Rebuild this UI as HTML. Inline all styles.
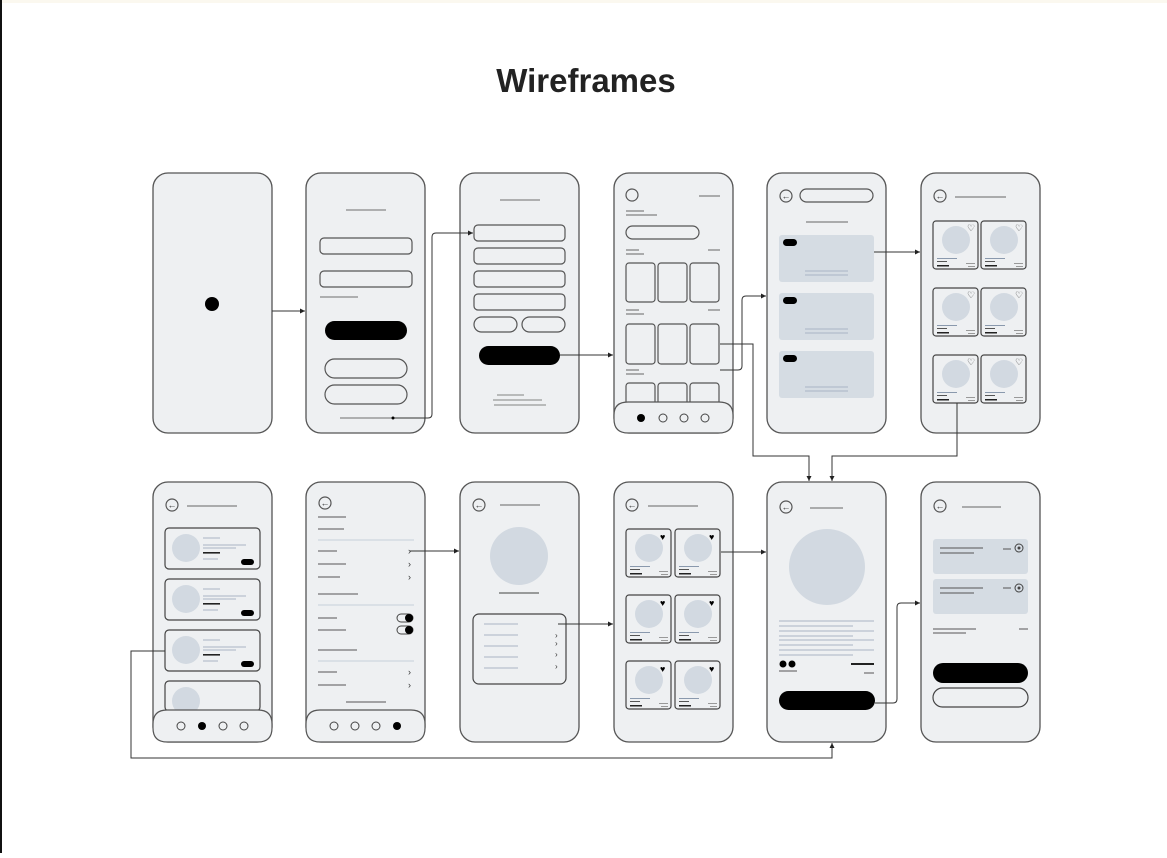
<!DOCTYPE html>
<html><head><meta charset="utf-8"><style>
html,body{margin:0;padding:0;background:#fff;}
body{width:1167px;height:853px;overflow:hidden;position:relative;}
</style></head><body>
<svg width="1167" height="853" viewBox="0 0 1167 853" xmlns="http://www.w3.org/2000/svg" font-family="Liberation Sans, sans-serif">
<defs>
<marker id="a" markerWidth="6" markerHeight="6" refX="5" refY="3" orient="auto"><path d="M0,0.5 L5,3 L0,5.5z" fill="#222"/></marker>
<g id="cardO">
<rect x="0" y="0" width="45" height="48" rx="3" fill="none" stroke="#444" stroke-width="1.2"/>
<circle cx="23" cy="19" r="14" fill="#d2d9e1"/>
<rect x="4" y="37" width="20" height="1" fill="#8a99ad"/><rect x="4" y="40" width="10" height="1" fill="#555"/>
<rect x="4" y="44" width="12" height="1.5" fill="#222"/><rect x="33" y="42" width="9" height="1" fill="#999"/><rect x="35" y="45" width="7" height="1" fill="#999"/>
</g>
</defs>
<rect x="0" y="0" width="1167" height="3" fill="#fbf8ef"/>
<rect x="0" y="0" width="2" height="853" fill="#111"/>
<text x="586" y="92" text-anchor="middle" font-size="33" font-weight="bold" fill="#222">Wireframes</text>

<g fill="#eef0f2" stroke="#555" stroke-width="1.3">
<rect x="153" y="173" width="119" height="260" rx="15"/>
<rect x="306" y="173" width="119" height="260" rx="15"/>
<rect x="460" y="173" width="119" height="260" rx="15"/>
<rect x="614" y="173" width="119" height="260" rx="15"/>
<rect x="767" y="173" width="119" height="260" rx="15"/>
<rect x="921" y="173" width="119" height="260" rx="15"/>
<rect x="153" y="482" width="119" height="260" rx="15"/>
<rect x="306" y="482" width="119" height="260" rx="15"/>
<rect x="460" y="482" width="119" height="260" rx="15"/>
<rect x="614" y="482" width="119" height="260" rx="15"/>
<rect x="767" y="482" width="119" height="260" rx="15"/>
<rect x="921" y="482" width="119" height="260" rx="15"/>
</g>

<circle cx="212" cy="304" r="7" fill="#000"/>
<g stroke="#555" stroke-width="1.2" fill="none">
<line x1="346" y1="210" x2="386" y2="210" stroke="#888"/>
<rect x="320" y="238" width="92" height="16" rx="4"/>
<rect x="320" y="271" width="92" height="16" rx="4"/>
<line x1="320" y1="297" x2="358" y2="297" stroke="#888"/>
<rect x="325" y="359" width="82" height="19" rx="9.5"/>
<rect x="325" y="385" width="82" height="19" rx="9.5"/>
<line x1="340" y1="418" x2="393" y2="418" stroke="#888"/>
</g>
<rect x="325" y="321" width="82" height="19" rx="9.5" fill="#000"/>
<g stroke="#555" stroke-width="1.2" fill="none">
<line x1="500" y1="200" x2="540" y2="200" stroke="#888"/>
<rect x="474" y="225" width="91" height="16" rx="4"/>
<rect x="474" y="248" width="91" height="16" rx="4"/>
<rect x="474" y="271" width="91" height="16" rx="4"/>
<rect x="474" y="294" width="91" height="16" rx="4"/>
<rect x="474" y="317" width="43" height="15" rx="7.5"/>
<rect x="522" y="317" width="43" height="15" rx="7.5"/>
<g stroke="#999"><line x1="497" y1="395" x2="524" y2="395"/><line x1="493" y1="400" x2="542" y2="400"/><line x1="494" y1="405" x2="546" y2="405"/></g>
</g>
<rect x="479" y="346" width="81" height="19" rx="9.5" fill="#000"/>
<g stroke="#555" stroke-width="1.2" fill="none">
<circle cx="632" cy="195" r="6"/>
<rect x="626" y="226" width="73" height="13" rx="6.5"/>
<rect x="626" y="263" width="29" height="39" rx="3"/><rect x="658" y="263" width="29" height="39" rx="3"/><rect x="690" y="263" width="29" height="39" rx="3"/>
<rect x="626" y="324" width="29" height="40" rx="3"/><rect x="658" y="324" width="29" height="40" rx="3"/><rect x="690" y="324" width="29" height="40" rx="3"/>
<rect x="626" y="383" width="29" height="30" rx="3"/><rect x="658" y="383" width="29" height="30" rx="3"/><rect x="690" y="383" width="29" height="30" rx="3"/>
</g>
<g stroke="#666" stroke-width="1">
<line x1="699" y1="196" x2="720" y2="196"/><line x1="626" y1="211" x2="644" y2="211"/><line x1="626" y1="215" x2="657" y2="215"/>
<line x1="626" y1="250" x2="639" y2="250"/><line x1="626" y1="254" x2="644" y2="254"/><line x1="708" y1="250" x2="720" y2="250"/>
<line x1="626" y1="310" x2="639" y2="310"/><line x1="626" y1="314" x2="644" y2="314"/><line x1="708" y1="310" x2="720" y2="310"/>
<line x1="626" y1="370" x2="639" y2="370"/><line x1="626" y1="374" x2="644" y2="374"/>
</g>
<path d="M614,415 Q614,402 628,402 L719,402 Q733,402 733,415 L733,419 Q733,433 719,433 L628,433 Q614,433 614,419z" fill="#eef0f2" stroke="#555" stroke-width="1.2"/>
<circle cx="641" cy="418" r="4" fill="#000"/>
<g fill="none" stroke="#444"><circle cx="663" cy="418" r="4"/><circle cx="684" cy="418" r="4"/><circle cx="705" cy="418" r="4"/></g>
<g stroke="#555" stroke-width="1.2" fill="none"><circle cx="786" cy="196" r="6"/><rect x="800" y="189" width="73" height="13" rx="6.5"/></g>
<text x="786" y="199" font-size="9" text-anchor="middle" fill="#333">←</text>
<line x1="806" y1="222" x2="848" y2="222" stroke="#666"/>
<g fill="#d5dce3"><rect x="779" y="235" width="95" height="47" rx="3"/><rect x="779" y="293" width="95" height="47" rx="3"/><rect x="779" y="351" width="95" height="47" rx="3"/></g>
<g fill="#000"><rect x="783" y="239" width="14" height="7" rx="3.5"/><rect x="783" y="297" width="14" height="7" rx="3.5"/><rect x="783" y="355" width="14" height="7" rx="3.5"/></g>
<g stroke="#a9b5c4"><line x1="805" y1="271" x2="848" y2="271"/><line x1="805" y1="275" x2="848" y2="275"/><line x1="805" y1="329" x2="848" y2="329"/><line x1="805" y1="333" x2="848" y2="333"/><line x1="805" y1="387" x2="848" y2="387"/><line x1="805" y1="391" x2="848" y2="391"/></g>
<circle cx="940" cy="196" r="6" fill="none" stroke="#555" stroke-width="1.2"/><text x="940" y="199" font-size="9" text-anchor="middle" fill="#333">←</text>
<line x1="955" y1="197" x2="1006" y2="197" stroke="#666"/>
<use href="#cardO" x="933" y="221"/><use href="#cardO" x="981" y="221"/>
<use href="#cardO" x="933" y="288"/><use href="#cardO" x="981" y="288"/>
<use href="#cardO" x="933" y="355"/><use href="#cardO" x="981" y="355"/>
<g font-size="9" fill="#333"><text x="967" y="231">♡</text><text x="1015" y="231">♡</text><text x="967" y="298">♡</text><text x="1015" y="298">♡</text><text x="967" y="365">♡</text><text x="1015" y="365">♡</text></g>

<circle cx="172" cy="505" r="6" fill="none" stroke="#555" stroke-width="1.2"/><text x="172" y="508" font-size="9" text-anchor="middle" fill="#333">←</text>
<line x1="187" y1="506" x2="237" y2="506" stroke="#666"/>
<g id="lc">
<rect x="165" y="528" width="95" height="41" rx="4" fill="none" stroke="#444" stroke-width="1.2"/>
<circle cx="186" cy="548" r="14" fill="#d2d9e1"/>
<g stroke="#a9b5c4"><line x1="203" y1="538" x2="220" y2="538"/><line x1="203" y1="545" x2="246" y2="545"/><line x1="203" y1="548" x2="236" y2="548"/><line x1="203" y1="559" x2="218" y2="559"/></g>
<rect x="203" y="552" width="17" height="1.6" fill="#222"/>
<rect x="241" y="559" width="13" height="6" rx="3" fill="#000"/>
</g>
<use href="#lc" x="0" y="51"/><use href="#lc" x="0" y="102"/>
<rect x="165" y="681" width="95" height="30" rx="4" fill="none" stroke="#444" stroke-width="1.2"/>
<circle cx="186" cy="701" r="14" fill="#d2d9e1"/>
<path d="M153,724 Q153,710 167,710 L258,710 Q272,710 272,724 L272,728 Q272,742 258,742 L167,742 Q153,742 153,728z" fill="#eef0f2" stroke="#555" stroke-width="1.2"/>
<g fill="none" stroke="#444"><circle cx="181" cy="726" r="4"/><circle cx="223" cy="726" r="4"/><circle cx="244" cy="726" r="4"/></g><circle cx="202" cy="726" r="4" fill="#000"/>
<circle cx="325" cy="503" r="6" fill="none" stroke="#555" stroke-width="1.2"/><text x="325" y="506" font-size="9" text-anchor="middle" fill="#333">←</text>
<g stroke="#555"><line x1="318" y1="517" x2="346" y2="517"/><line x1="318" y1="529" x2="344" y2="529"/>
<line x1="318" y1="551" x2="337" y2="551"/><line x1="318" y1="564" x2="346" y2="564"/><line x1="318" y1="577" x2="340" y2="577"/>
<line x1="318" y1="594" x2="358" y2="594"/><line x1="318" y1="618" x2="337" y2="618"/><line x1="318" y1="630" x2="346" y2="630"/>
<line x1="318" y1="650" x2="357" y2="650"/><line x1="318" y1="672" x2="337" y2="672"/><line x1="318" y1="685" x2="346" y2="685"/><line x1="346" y1="702" x2="386" y2="702"/></g>
<g stroke="#c5cfdb"><line x1="318" y1="540" x2="414" y2="540"/><line x1="318" y1="605" x2="414" y2="605"/><line x1="318" y1="661" x2="414" y2="661"/></g>
<g font-size="9" fill="#333"><text x="408" y="554">›</text><text x="408" y="567">›</text><text x="408" y="580">›</text><text x="408" y="675">›</text><text x="408" y="688">›</text></g>
<g><rect x="397" y="614" width="16" height="8" rx="4" fill="#eef0f2" stroke="#444"/><circle cx="409" cy="618" r="4" fill="#000"/>
<rect x="397" y="626" width="16" height="8" rx="4" fill="#eef0f2" stroke="#444"/><circle cx="409" cy="630" r="4" fill="#000"/></g>
<path d="M306,724 Q306,710 320,710 L411,710 Q425,710 425,724 L425,728 Q425,742 411,742 L320,742 Q306,742 306,728z" fill="#eef0f2" stroke="#555" stroke-width="1.2"/>
<g fill="none" stroke="#444"><circle cx="334" cy="726" r="4"/><circle cx="355" cy="726" r="4"/><circle cx="376" cy="726" r="4"/></g><circle cx="397" cy="726" r="4" fill="#000"/>
<circle cx="479" cy="505" r="6" fill="none" stroke="#555" stroke-width="1.2"/><text x="479" y="508" font-size="9" text-anchor="middle" fill="#333">←</text>
<line x1="500" y1="505" x2="540" y2="505" stroke="#666"/>
<circle cx="519" cy="556" r="29" fill="#d2d9e1"/>
<line x1="499" y1="593" x2="539" y2="593" stroke="#666" stroke-width="1.3"/>
<rect x="473" y="614" width="93" height="70" rx="6" fill="none" stroke="#444" stroke-width="1.2"/>
<g stroke="#a9b5c4"><line x1="484" y1="624" x2="518" y2="624"/><line x1="484" y1="635" x2="518" y2="635"/><line x1="484" y1="646" x2="518" y2="646"/><line x1="484" y1="657" x2="518" y2="657"/><line x1="484" y1="668" x2="518" y2="668"/></g>
<g font-size="8" fill="#333"><text x="555" y="638">›</text><text x="555" y="646">›</text><text x="555" y="657">›</text><text x="555" y="669">›</text></g>
<circle cx="632" cy="505" r="6" fill="none" stroke="#555" stroke-width="1.2"/><text x="632" y="508" font-size="9" text-anchor="middle" fill="#333">←</text>
<line x1="648" y1="506" x2="698" y2="506" stroke="#666"/>
<use href="#cardO" x="626" y="529"/><use href="#cardO" x="675" y="529"/>
<use href="#cardO" x="626" y="595"/><use href="#cardO" x="675" y="595"/>
<use href="#cardO" x="626" y="661"/><use href="#cardO" x="675" y="661"/>
<g font-size="9" fill="#000"><text x="660" y="540">♥</text><text x="709" y="540">♥</text><text x="660" y="606">♥</text><text x="709" y="606">♥</text><text x="660" y="672">♥</text><text x="709" y="672">♥</text></g>
<circle cx="786" cy="507" r="6" fill="none" stroke="#555" stroke-width="1.2"/><text x="786" y="510" font-size="9" text-anchor="middle" fill="#333">←</text>
<line x1="810" y1="508" x2="843" y2="508" stroke="#666"/>
<circle cx="827" cy="567" r="38" fill="#d2d9e1"/>
<g stroke="#a9b5c4"><line x1="779" y1="621" x2="874" y2="621"/><line x1="779" y1="626" x2="853" y2="626"/><line x1="779" y1="631" x2="874" y2="631"/><line x1="779" y1="636" x2="853" y2="636"/><line x1="779" y1="640" x2="874" y2="640"/><line x1="779" y1="645" x2="853" y2="645"/><line x1="779" y1="650" x2="874" y2="650"/><line x1="779" y1="655" x2="853" y2="655"/></g>
<circle cx="783" cy="664" r="3.5" fill="#000"/><circle cx="792" cy="664" r="3.5" fill="#000"/>
<line x1="779" y1="671" x2="797" y2="671" stroke="#555"/>
<rect x="851" y="663" width="23" height="2" fill="#222"/><line x1="864" y1="673" x2="874" y2="673" stroke="#555"/>
<rect x="779" y="691" width="96" height="19" rx="9.5" fill="#000"/>
<circle cx="940" cy="506" r="6" fill="none" stroke="#555" stroke-width="1.2"/><text x="940" y="509" font-size="9" text-anchor="middle" fill="#333">←</text>
<line x1="962" y1="507" x2="1001" y2="507" stroke="#666"/>
<rect x="933" y="539" width="95" height="35" rx="3" fill="#d5dce3"/><rect x="933" y="579" width="95" height="35" rx="3" fill="#d5dce3"/>
<g stroke="#555"><line x1="940" y1="548" x2="983" y2="548"/><line x1="940" y1="553" x2="974" y2="553"/><line x1="1003" y1="549" x2="1011" y2="549"/>
<line x1="940" y1="588" x2="983" y2="588"/><line x1="940" y1="593" x2="974" y2="593"/><line x1="1003" y1="588" x2="1011" y2="588"/>
<line x1="933" y1="629" x2="976" y2="629"/><line x1="933" y1="633" x2="966" y2="633"/><line x1="1019" y1="629" x2="1028" y2="629"/></g>
<g fill="none" stroke="#444"><circle cx="1019" cy="548" r="4"/><circle cx="1019" cy="588" r="4"/></g>
<circle cx="1019" cy="548" r="1.5" fill="#444"/><circle cx="1019" cy="588" r="1.5" fill="#444"/>
<rect x="933" y="663" width="95" height="20" rx="10" fill="#000"/>
<rect x="933" y="688" width="95" height="19" rx="9.5" fill="none" stroke="#444" stroke-width="1.2"/>

<g fill="none" stroke="#333" stroke-width="1" marker-end="url(#a)">
<path d="M272,311 H305"/>
<path d="M393,418 H428 Q432,418 432,414 V237 Q432,233 436,233 H473"/>
<path d="M560,355 H613"/>
<path d="M720,344 H753 V456 H809 V481"/>
<path d="M720,370 H738 Q742,370 742,366 V300 Q742,296 746,296 H766"/>
<path d="M874,252 H920"/>
<path d="M957,403 V456 H832 V481"/>
<path d="M410,551 H459"/>
<path d="M558,624 H613"/>
<path d="M721,552 H766"/>
<path d="M875,703 H893 Q897,703 897,699 V607 Q897,603 901,603 H920"/>
<path d="M165,651 H131 V758 H832 V743"/>
</g>
<circle cx="393" cy="418" r="1.5" fill="#000"/>
</svg>
</body></html>
